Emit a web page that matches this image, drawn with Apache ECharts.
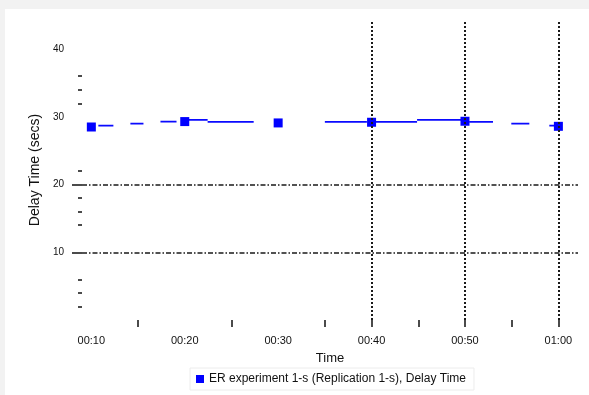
<!DOCTYPE html>
<html>
<head>
<meta charset="utf-8">
<script src="https://cdn.jsdelivr.net/npm/echarts@6/dist/echarts.min.js"></script>
<style>
  html, body { margin: 0; padding: 0; width: 589px; height: 395px; background: #f2f2f2; overflow: hidden; }
  #chart { position: absolute; left: 5px; top: 9px; width: 584px; height: 386px; background: #ffffff; }
</style>
</head>
<body>
<div id="chart"></div>
<script>
// ---- data ----
const seriesName = 'ER experiment 1-s (Replication 1-s), Delay Time';
const markerMinutes = [10, 20, 30, 40, 50, 60];
const markerDelay = [28.5, 29.3, 29.1, 29.2, 29.35, 28.6];

// visible pieces of the connecting line (start minute, end minute, delay)
const segStart = [10.75, 14.18, 17.40, 20.0, 22.45, 35.0, 40.4, 44.87, 50.45, 54.96, 59.03];
const segEnd   = [12.36, 15.58, 19.12, 22.45, 27.38, 39.5, 44.87, 49.7, 53.0, 56.89, 60.2];
const segDelay = [28.7, 29.0, 29.3, 29.55, 29.25, 29.25, 29.25, 29.55, 29.25, 29.0, 28.7];

const xLabelMinutes = [10, 20, 30, 40, 50, 60];
const xTickMinutes = [15, 25, 35, 40, 45, 50, 55, 60];
const yLabelValues = [10, 20, 30, 40];
const yMajorTicks = [10, 20];
const yMinorTicks = [2, 4, 6, 14, 16, 18, 22, 32, 34, 36];
const vGridMinutes = [40, 50, 60];
const hGridDelay = [10, 20];

// ---- build ----
function fmtTime(m) {
  const h = Math.floor(m / 60), mm = Math.round(m % 60);
  return String(h).padStart(2, '0') + ':' + String(mm).padStart(2, '0');
}
const lineData = [];
for (let i = 0; i < segStart.length; i++) {
  lineData.push([segStart[i], segDelay[i]]);
  lineData.push([segEnd[i], segDelay[i]]);
  lineData.push([segEnd[i], '-']);
}
const scatterData = markerMinutes.map((m, i) => [m, markerDelay[i]]);

const font = 'Liberation Sans, Arial, sans-serif';
const markData = [];
vGridMinutes.forEach(v => markData.push({ xAxis: v, lineStyle: { type: [2, 2], width: 2, color: '#1a1a1a' } }));
hGridDelay.forEach(v => markData.push({ yAxis: v, lineStyle: { type: [5, 2, 1.5, 2], width: 1.5, color: '#1a1a1a' } }));

const chart = echarts.init(document.getElementById('chart'), null, { renderer: 'canvas' });
chart.setOption({
  animation: false,
  backgroundColor: '#ffffff',
  textStyle: { fontFamily: font },
  grid: { left: 77, right: 11, top: 11, bottom: 75, containLabel: false },
  legend: {
    data: [seriesName],
    left: 185, top: 359,
    icon: 'rect', itemWidth: 8, itemHeight: 8,
    padding: [5, 8, 5, 6],
    backgroundColor: '#ffffff',
    borderColor: '#ececec', borderWidth: 1,
    textStyle: { fontSize: 12, color: '#111', fontFamily: font }
  },
  xAxis: {
    type: 'value', min: 9, max: 62.1,
    offset: 5,
    name: 'Time', nameLocation: 'middle', nameGap: 27,
    nameTextStyle: { fontSize: 13, color: '#111', fontFamily: font },
    axisLine: { show: false },
    splitLine: { show: false },
    axisTick: { show: true, inside: false, length: 7, customValues: xTickMinutes, lineStyle: { color: '#111', width: 1.5 } },
    axisLabel: { customValues: xLabelMinutes, formatter: v => fmtTime(v), fontSize: 11, color: '#111', margin: 10, fontFamily: font }
  },
  yAxis: [{
    type: 'value', min: 0, max: 44.3,
    name: 'Delay Time (secs)', nameLocation: 'middle', nameGap: 34,
    nameTextStyle: { fontSize: 14, color: '#111', fontFamily: font },
    axisLine: { show: false },
    splitLine: { show: false },
    axisTick: { show: true, length: 10, customValues: yMajorTicks, lineStyle: { color: '#111', width: 1.5 } },
    axisLabel: { customValues: yLabelValues, fontSize: 10, color: '#111', margin: 18, fontFamily: font }
  }, {
    type: 'value', min: 0, max: 44.3, position: 'left',
    axisLine: { show: false },
    splitLine: { show: false },
    axisTick: { show: true, length: 4, customValues: yMinorTicks, lineStyle: { color: '#111', width: 1.5 } },
    axisLabel: { show: false }
  }],
  series: [{
    name: 'segments',
    type: 'line',
    data: lineData,
    showSymbol: false,
    symbol: 'none',
    connectNulls: false,
    silent: true,
    lineStyle: { color: '#0a0aff', width: 1.6, opacity: 1 },
    markLine: { silent: true, symbol: ['none', 'none'], label: { show: false }, data: markData, animation: false },
    z: 3
  }, {
    name: seriesName,
    type: 'scatter',
    data: scatterData,
    symbol: 'rect',
    symbolSize: 9,
    itemStyle: { color: '#0000ff', opacity: 1 },
    z: 4
  }]
});
</script>
</body>
</html>
